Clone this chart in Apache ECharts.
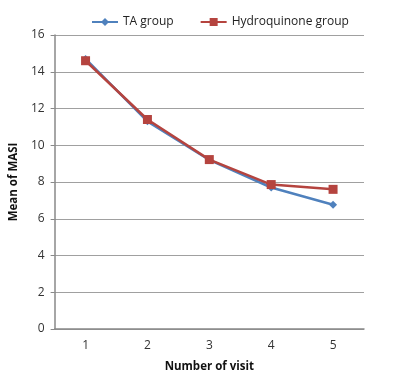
<!DOCTYPE html>
<html><head><meta charset="utf-8">
<script src="https://cdn.jsdelivr.net/npm/echarts@6/dist/echarts.min.js"></script>
<style>html,body{margin:0;padding:0;background:#fff}#c{width:400px;height:378px}</style>
</head><body><div id="c"></div>
<script>
const categories = ['1','2','3','4','5'];
const taGroup = [14.7, 11.3, 9.2, 7.7, 6.76];
const hqGroup = [14.6, 11.4, 9.22, 7.86, 7.6];
const seriesNames = ['TA group', 'Hydroquinone group'];
const xTitle = 'Number of visit';
const yTitle = 'Mean of MASI';

const font = '"Open Sans", Lato, sans-serif';
const chart = echarts.init(document.getElementById('c'), null, {renderer:'canvas'});
chart.setOption({
  animation: false,
  backgroundColor: '#fff',
  legend: {
    top: 11, left: 86, itemGap: 26, itemWidth: 26, itemHeight: 10,
    textStyle: {fontFamily: font, fontSize: 12, color: '#222'},
    data: seriesNames
  },
  grid: {left: 54, right: 36, top: 35, bottom: 44, containLabel: false},
  xAxis: {
    type: 'category', data: categories, boundaryGap: true,
    name: xTitle, nameLocation: 'middle', nameGap: 32,
    nameTextStyle: {fontFamily: font, fontSize: 11.5, fontWeight: 'bold', color: '#111'},
    axisLine: {lineStyle: {color: '#888', width: 1.5}},
    axisTick: {show: false},
    axisLabel: {fontFamily: font, fontSize: 12, color: '#333', margin: 11}
  },
  yAxis: {
    type: 'value', min: 0, max: 16, interval: 2,
    name: yTitle, nameLocation: 'middle', nameGap: 33,
    nameTextStyle: {fontFamily: font, fontSize: 11.5, fontWeight: 'bold', color: '#111'},
    axisLine: {show: true, lineStyle: {color: '#888', width: 1.5}},
    axisTick: {show: true, length: 4, lineStyle: {color: '#888'}},
    axisLabel: {fontFamily: font, fontSize: 12, color: '#333', margin: 10},
    splitLine: {lineStyle: {color: '#a0a0a0', width: 1}}
  },
  series: [
    {name: seriesNames[0], type: 'line', data: taGroup, symbol: 'diamond', symbolSize: 8,
     lineStyle: {color: '#4F81BD', width: 2.5}, itemStyle: {color: '#4F81BD'}},
    {name: seriesNames[1], type: 'line', data: hqGroup, symbol: 'rect', symbolSize: 9,
     lineStyle: {color: '#B5443F', width: 2.5}, itemStyle: {color: '#B5443F'}}
  ]
});
</script></body></html>
